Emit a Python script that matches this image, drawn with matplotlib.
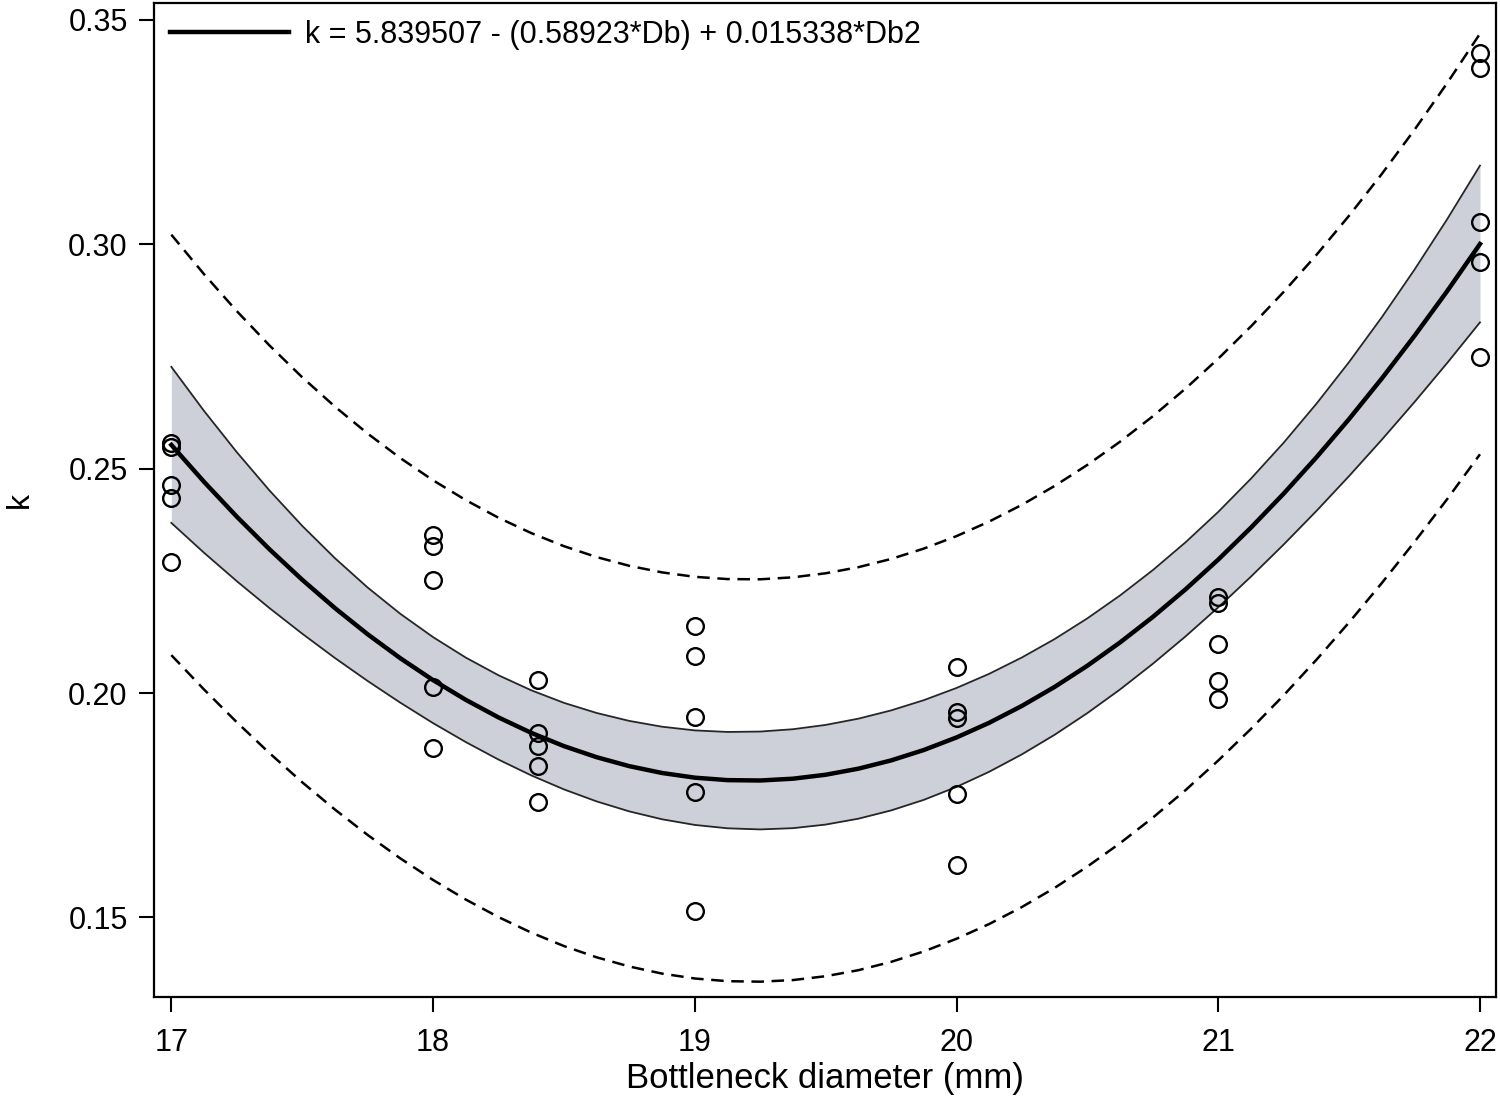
import numpy as np
import matplotlib
matplotlib.use('Agg')
import matplotlib.pyplot as plt

plt.rcParams['font.family'] = ['Liberation Sans', 'DejaVu Sans']
plt.rcParams['lines.scale_dashes'] = False

# observed points (bottleneck diameter in mm, k)
db_obs = [17, 17, 17, 17, 17,
          18, 18, 18, 18, 18,
          18.4, 18.4, 18.4, 18.4, 18.4,
          19, 19, 19, 19, 19,
          20, 20, 20, 20, 20,
          21, 21, 21, 21, 21,
          22, 22, 22, 22, 22]
k_obs = [0.2557, 0.2548, 0.2464, 0.2435, 0.2291,
         0.2353, 0.2327, 0.2251, 0.2014, 0.1877,
         0.2029, 0.1910, 0.1883, 0.1838, 0.1758,
         0.2150, 0.2083, 0.1947, 0.1780, 0.1514,
         0.2059, 0.1957, 0.1944, 0.1775, 0.1617,
         0.2215, 0.2201, 0.2109, 0.2027, 0.1986,
         0.3425, 0.3393, 0.3050, 0.2960, 0.2749]

# fitted curve and band half-widths read along the diameter axis
db_grid = [17.0, 17.125, 17.25, 17.375, 17.5, 17.625, 17.75, 17.875,
           18.0, 18.125, 18.25, 18.375, 18.5, 18.625, 18.75, 18.875,
           19.0, 19.125, 19.25, 19.375, 19.5, 19.625, 19.75, 19.875,
           20.0, 20.125, 20.25, 20.375, 20.5, 20.625, 20.75, 20.875,
           21.0, 21.125, 21.25, 21.375, 21.5, 21.625, 21.75, 21.875, 22.0]
k_fit = [0.25528, 0.24705, 0.23930, 0.23203, 0.22524, 0.21893, 0.21310,
         0.20775, 0.20288, 0.19849, 0.19457, 0.19114, 0.18818, 0.18571,
         0.18371, 0.18219, 0.18115, 0.18060, 0.18052, 0.18092, 0.18180,
         0.18315, 0.18499, 0.18731, 0.19011, 0.19338, 0.19714, 0.20137,
         0.20609, 0.21128, 0.21695, 0.22310, 0.22973, 0.23685, 0.24443,
         0.25250, 0.26105, 0.27008, 0.27959, 0.28957, 0.30004]
conf_half = [0.01738, 0.01580, 0.01437, 0.01310, 0.01201, 0.01112, 0.01041,
             0.00990, 0.00958, 0.00941, 0.00939, 0.00948, 0.00964, 0.00985,
             0.01008, 0.01031, 0.01053, 0.01073, 0.01090, 0.01102, 0.01110,
             0.01114, 0.01114, 0.01110, 0.01102, 0.01091, 0.01079, 0.01066,
             0.01055, 0.01047, 0.01043, 0.01048, 0.01063, 0.01091, 0.01134,
             0.01194, 0.01270, 0.01364, 0.01475, 0.01602, 0.01746]
pred_half = [0.04683, 0.04626, 0.04579, 0.04541, 0.04511, 0.04488, 0.04471,
             0.04459, 0.04452, 0.04449, 0.04448, 0.04450, 0.04454, 0.04458,
             0.04463, 0.04469, 0.04474, 0.04479, 0.04482, 0.04486, 0.04488,
             0.04489, 0.04488, 0.04487, 0.04485, 0.04483, 0.04480, 0.04477,
             0.04474, 0.04472, 0.04471, 0.04473, 0.04476, 0.04483, 0.04494,
             0.04509, 0.04530, 0.04557, 0.04591, 0.04634, 0.04685]

x_ticks = [17, 18, 19, 20, 21, 22]
y_ticks = [0.15, 0.20, 0.25, 0.30, 0.35]
fit_label = 'k = 5.839507 - (0.58923*Db) + 0.015338*Db2'

x = np.array(db_grid)
fit = np.array(k_fit)
ci = np.array(conf_half)
pi = np.array(pred_half)

fig = plt.figure(figsize=(15, 11.16), dpi=100)
ax = fig.add_axes([0.1027, 0.1066, 0.8946, 0.8907])

ax.fill_between(x, fit - ci, fit + ci, color='#cdd0d8', lw=0, zorder=1)
ax.plot(x, fit + ci, color='#262626', lw=1.3, zorder=2)
ax.plot(x, fit - ci, color='#262626', lw=1.3, zorder=2)
ax.plot(x, fit + pi, color='black', lw=1.8, ls=(0, (9, 5.5)), zorder=2)
ax.plot(x, fit - pi, color='black', lw=1.8, ls=(0, (9, 5.5)), zorder=2)
ax.plot(x, fit, color='black', lw=3.2, zorder=3, label=fit_label,
        solid_joinstyle='round')
ax.plot(db_obs, k_obs, 'o', ms=12, mfc='none', mec='black', mew=1.7, zorder=4)

ax.set_xlim(16.934, 22.061)
ax.set_ylim(0.13228, 0.35372)
ax.set_xticks(x_ticks)
ax.set_yticks(y_ticks)
ax.set_yticklabels(['%.2f' % v for v in y_ticks])
ax.tick_params(direction='out', length=11, width=1.5, labelsize=22)
ax.tick_params(axis='x', pad=11)
ax.tick_params(axis='y', pad=8)
for s in ax.spines.values():
    s.set_linewidth(1.6)

ax.set_xlabel('Bottleneck diameter (mm)', fontsize=25, labelpad=3)
ax.set_ylabel('k', fontsize=23, labelpad=24)

ax.legend(loc='upper left', bbox_to_anchor=(0.012, 0.983), frameon=False,
          fontsize=22, handlelength=3.9, handletextpad=0.5,
          borderpad=0, borderaxespad=0)

fig.savefig('out.png', dpi=100)
